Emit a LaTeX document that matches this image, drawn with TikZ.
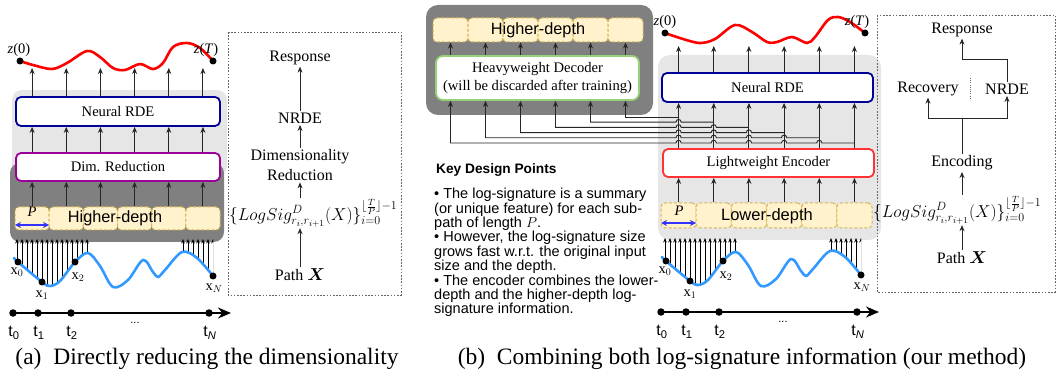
\documentclass[tikz,border=0pt]{standalone}
\usepackage{amsmath,bm}
\usepackage{fontspec}
\setmainfont{Liberation Serif}
\setsansfont{Liberation Sans}
\usetikzlibrary{arrows.meta,calc}

\definecolor{dgray}{HTML}{808080}
\definecolor{lgray}{HTML}{E6E6E6}
\definecolor{rdeblue}{HTML}{000099}
\definecolor{dimpurple}{HTML}{990099}
\definecolor{cellfill}{HTML}{FFF2CC}
\definecolor{cellline}{HTML}{D6B656}
\definecolor{decgreen}{HTML}{97D077}
\definecolor{encred}{HTML}{FF3333}
\definecolor{zred}{HTML}{FF0000}
\definecolor{xblue}{HTML}{3399FF}
\definecolor{pblue}{HTML}{3333FF}
\definecolor{dotgray}{HTML}{666666}

\newcommand\bxfont{\fontsize{14.6}{17}\selectfont}
\newcommand\rtfont{\fontsize{16}{20}\selectfont}
\newcommand\lsformula{$\{LogSig^{D}_{r_i,r_{i+1}}(X)\}^{\lfloor\frac{T}{P}\rfloor-1}_{i=0}$}

\begin{document}
\begin{tikzpicture}[x=1pt,y=-1pt,
  arr/.style={draw=black!85, line width=0.9pt, -{Stealth[length=6pt,width=5pt]}},
  tinyarr/.style={draw=black, line width=0.7pt, -{Stealth[length=4.5pt,width=3.6pt]}},
  box/.style={draw, line width=1.8pt, rounded corners=5pt, fill=white, inner sep=0pt, font=\bxfont},
  cell/.style={draw=cellline, dashed, dash pattern=on 3pt off 2pt, fill=cellfill, rounded corners=4pt, line width=1pt, inner sep=0pt},
  sanslab/.style={font=\sffamily\fontsize{16.3}{18}\selectfont, inner sep=0pt},
  rtxt/.style={font=\rtfont, inner sep=1.5pt, align=center},
  lsform/.style={font=\fontsize{18.2}{20}\selectfont, inner sep=1pt, anchor=west},
  dotbox/.style={draw=dotgray, line width=0.9pt, dash pattern=on 1.6pt off 1.6pt},
  zlab/.style={font=\fontsize{14.5}{16}\selectfont, inner sep=0pt},
  xlab/.style={font=\fontsize{14.5}{16}\selectfont, inner sep=0pt},
  tlab/.style={font=\sffamily\fontsize{16}{18}\selectfont, inner sep=0pt},
  caption/.style={font=\fontsize{23.5}{26}\selectfont, inner sep=0pt},
  dot/.style={circle, fill=black, inner sep=0pt, minimum size=7pt},
  tdot/.style={circle, fill=black, inner sep=0pt, minimum size=7.5pt},
  pathsketch/.pic={
    % tiny arrows from the sampled path into the sub-path cells
    \begin{scope}
      \clip plot[smooth,tension=0.55] coordinates {(14,258) (18,262) (42,282) (50,286) (60,281) (75,262) (88,253) (100,266) (113,287) (128,280) (143,260) (153,272) (158,277) (165,270) (182,252) (197,258) (213,276)} -- (213,235) -- (14,235) -- cycle;
      \foreach \x in {17,22,...,87} \draw[tinyarr] (\x,300) -- (\x,239);
      \foreach \x in {183,188,...,213} \draw[tinyarr] (\x,300) -- (\x,239);
    \end{scope}
    \draw[xblue, line width=2.6pt, line cap=round] plot[smooth,tension=0.55] coordinates {(14,258) (18,262) (42,282) (50,286) (60,281) (75,262) (88,253) (100,266) (113,287) (128,280) (143,260) (153,272) (158,277) (165,270) (182,252) (197,258) (213,276)};
    \node[dot] (x0) at (18,262) {};
    \node[dot] (x1) at (42,282) {};
    \node[dot] (x2) at (75,262) {};
    \node[dot] (xN) at (213,276) {};
    \node[xlab] (lx0) at (17,272) {x$_0$};
    \node[xlab] (lx1) at (42,295) {x$_1$};
    \node[xlab] (lx2) at (78,277) {x$_2$};
    \node[xlab] (lxN) at (214,288) {x$_N$};
    % time axis
    \node[tdot] (t0) at (13,313) {};
    \node[tdot] (t1) at (38,313) {};
    \node[tdot] (t2) at (71,313) {};
    \node[tdot] (tN) at (209,313) {};
    \coordinate (tend) at (231,313);
    \draw[line width=2.3pt, -{Stealth[length=13pt,width=11pt]}] (t0.center) -- (tend);
    \node[tlab] at (14,333) {t\textsubscript{0}};
    \node[tlab] at (39,333) {t\textsubscript{1}};
    \node[tlab] at (72,333) {t\textsubscript{2}};
    \node[tlab] at (210,333) {t\textsubscript{\textit{N}}};
    \node[tlab, font=\sffamily\fontsize{11}{12}\selectfont] at (135,323) {...};
  }
]
\useasboundingbox (0,0) rectangle (1057,379);

% ---------------- (a) direct reduction ----------------
\fill[lgray, rounded corners=10pt] (12,90) rectangle (227,176);
\fill[dgray, rounded corners=10pt] (10,163) rectangle (224,242);

\node[box, draw=rdeblue, minimum width=204pt, minimum height=29pt] (rdeA) at (118,111.5) {Neural RDE};
\node[box, draw=dimpurple, minimum width=204pt, minimum height=28pt] (dimA) at (118,167) {Dim. Reduction};
\foreach \i in {1,...,6}
  \node[cell, minimum width=34.17pt, minimum height=23pt] (ca\i) at ({15+34.17*(\i-0.5)},218.5) {};
\node[sanslab] (hdA) at (115,218) {Higher-depth};
\node[zlab, font=\itshape\fontsize{14.5}{16}\selectfont] (pA) at (32,212) {P};
\coordinate (pAl) at (15,225);
\coordinate (pAr) at (49,225);
\draw[pblue, line width=1.6pt, {Stealth[length=6pt,width=6pt]}-{Stealth[length=6pt,width=6pt]}] (pAl) -- (pAr);

\coordinate (topA) at (0,68);
\foreach \i in {1,...,6} {
  \draw[arr] (ca\i.north) -- (ca\i |- dimA.south);
  \draw[arr] (ca\i |- dimA.north) -- (ca\i |- rdeA.south);
  \draw[arr] (ca\i |- rdeA.north) -- (ca\i |- topA);
}
\draw[zred, line width=2.6pt, line cap=round] plot[smooth,tension=0.55] coordinates {(20,61) (33,65) (52,69) (67,63) (87,51) (100,57) (113,68) (125,70) (140,64) (153,69) (163,63) (173,47) (187,43) (200,48) (213,61)};
\node[dot] (z0A) at (20,61) {};
\node[dot] (zTA) at (213,61) {};
\node[zlab] at (19,50) {\textit{z}(0)};
\node[zlab] at (206,50) {\textit{z}(\textit{T})};

\pic (sa) at (0,0) {pathsketch};

\node[caption] (capA) at (207,359) {(a)\enspace Directly reducing the dimensionality};

% pipeline summary (a)
\draw[dotbox] (228,32) rectangle (401,295);
\node[rtxt] (respA) at (300,58) {Response};
\node[rtxt] (nrdeA) at (300,118) {NRDE};
\node[rtxt] (drA) at (300,165) {Dimensionality\\Reduction};
\node[lsform] (lsA) at (228,213) {\lsformula};
\node[rtxt] (pxA) at (300,275) {Path $\bm{X}$};
\draw[arr] (nrdeA.north) -- (respA.south);
\draw[arr] (drA.north) -- (nrdeA.south);
\draw[arr] (drA.south |- lsA.north) -- (drA.south);
\draw[arr] (pxA.north) -- (pxA.north |- lsA.south);

% ---------------- (b) combined log-signatures ----------------
\fill[dgray, rounded corners=12pt] (426,5) rectangle (653,115);
\foreach \i in {1,...,6}
  \node[cell, minimum width=35pt, minimum height=24pt] (hb\i) at ({433+35*(\i-0.5)},30) {};
\node[sanslab] (hdB) at (538,30) {Higher-depth};
\node[box, draw=decgreen, minimum width=203pt, minimum height=44pt, align=center, rounded corners=7pt] (dec) at (537.5,78) {Heavyweight Decoder\\[1pt](will be discarded after training)};
\foreach \i in {1,...,6}
  \draw[arr] (hb\i |- dec.north) -- (hb\i.south);

\fill[lgray, rounded corners=12pt] (658,55) rectangle (881,240);
\node[box, draw=rdeblue, minimum width=211pt, minimum height=29pt] (rdeB) at (767.5,87.5) {Neural RDE};
\node[box, draw=encred, minimum width=211pt, minimum height=28pt] (encB) at (768.5,163) {Lightweight Encoder};
\foreach \i in {1,...,6}
  \node[cell, minimum width=35.17pt, minimum height=25pt] (lb\i) at ({661+35.17*(\i-0.5)},215.5) {};
\node[sanslab, font=\sffamily\fontsize{16.5}{18}\selectfont] (ldB) at (767,216) {Lower-depth};
\node[zlab, font=\itshape\fontsize{14.5}{16}\selectfont] (pB) at (679,211) {P};
\coordinate (pBl) at (661,223);
\coordinate (pBr) at (696,223);
\draw[pblue, line width=1.6pt, {Stealth[length=6pt,width=6pt]}-{Stealth[length=6pt,width=6pt]}] (pBl) -- (pBr);

\coordinate (topB) at (0,46);
\foreach \i in {1,...,6} {
  \draw[arr] (lb\i.north) -- (lb\i |- encB.south);
  \draw[arr] (lb\i |- encB.north) -- (lb\i |- rdeB.south);
  \draw[arr] (lb\i |- rdeB.north) -- (lb\i |- topB);
}
% encoder outputs routed back to the decoder, hopping over the columns they cross
\foreach \k in {1,...,6}
  \coordinate (hy\k) at (0,{117+5.2*(\k-1)});
\draw[arr] (lb1 |- hy1) -| (hb6 |- dec.south);
\foreach \k in {2,...,6} {
  \pgfmathtruncatemacro\km{\k-1}
  \pgfmathtruncatemacro\dd{7-\k}
  \draw[arr] (lb\k |- hy\k)
    \foreach \j in {\km,...,1} {
      -- ($(lb\j |- hy\k)+(2.6,0)$) .. controls +(0,-3.6) and +(0,-3.6) .. ($(lb\j |- hy\k)+(-2.6,0)$)
    } -| (hb\dd |- dec.south);
}

\draw[zred, line width=2.6pt, line cap=round] plot[smooth,tension=0.55] coordinates {(665,33) (683,39) (700,43) (715,39) (735,25) (752,32) (767,42) (777,42) (792,37) (807,43) (815,37) (828,20) (838,17) (850,22) (865,33)};
\node[dot] (z0B) at (665,33) {};
\node[dot] (zTB) at (865,33) {};
\node[zlab] at (665,22) {\textit{z}(0)};
\node[zlab] at (857,22) {\textit{z}(\textit{T})};

\pic (sb) at (648,-1) {pathsketch};

% key design notes
\node[font=\sffamily\bfseries\fontsize{13.7}{15}\selectfont, inner sep=0pt, anchor=west] (kdp) at (436,170) {Key Design Points};
\node[font=\sffamily\fontsize{14.5}{14.4}\selectfont, inner sep=0pt, anchor=north west, align=left] (notes) at (434,188) {%
• The log-signature is a summary\\
(or unique feature) for each sub-\\
path of length $P$.\\
• However, the log-signature size\\
grows fast w.r.t. the original input\\
size and the depth.\\
• The encoder combines the lower-\\
depth and the higher-depth log-\\
signature information.};

\node[caption] (capB) at (742,359) {(b)\enspace Combining both log-signature information (our method)};

% pipeline summary (b)
\draw[dotbox] (877,15) rectangle (1055,292);
\node[rtxt] (respB) at (962,30) {Response};
\node[rtxt] (recB) at (928,89) {Recovery};
\node[rtxt] (nrdeB) at (1007,89) {NRDE};
\coordinate (sepT) at (970,78);
\coordinate (sepB) at (970,98);
\draw[dotgray, line width=0.8pt, dash pattern=on 1pt off 1.2pt] (sepT) -- (sepB);
\node[rtxt] (encT) at (962,163) {Encoding};
\node[lsform] (lsB) at (872,210) {\lsformula};
\node[rtxt] (pxB) at (962,258) {Path $\bm{X}$};
\coordinate (jr) at (962,59);
\coordinate (js) at (962,118);
\draw[arr] (nrdeB.north) |- (jr) -- (respB.south);
\draw[black!85, line width=0.9pt] (encT.north) -- (js);
\draw[arr] (js) -| (recB.south);
\draw[arr] (js) -| (nrdeB.south);
\draw[arr] (encT.south |- lsB.north) -- (encT.south);
\draw[arr] (pxB.north) -- (pxB.north |- lsB.south);
\end{tikzpicture}
\end{document}
